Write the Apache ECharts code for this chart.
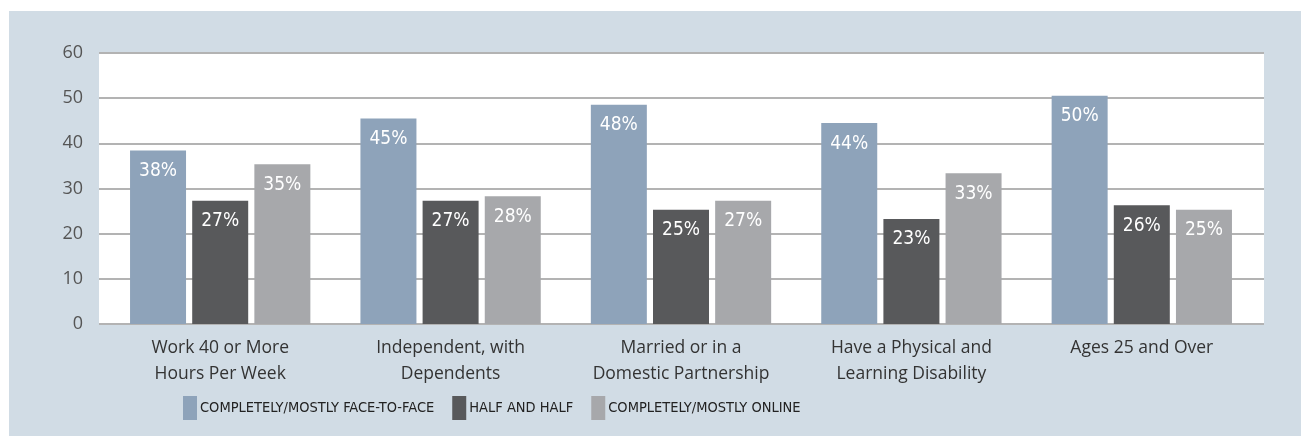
<!DOCTYPE html>
<html>
<head>
<meta charset="utf-8">
<script src="https://cdn.jsdelivr.net/npm/echarts@6/dist/echarts.min.js"></script>
<style>
  html, body { margin: 0; padding: 0; background: #fff; }
  #panel { position: absolute; left: 9px; top: 11px; width: 1292px; height: 425px; background: #d1dce5; }
  #chart { position: absolute; left: 0; top: 0; width: 1301px; height: 436px; }
</style>
</head>
<body>
<div id="panel"></div>
<div id="chart"></div>
<script>
// categories and values (percent)
const categories = [
  "Work 40 or More\nHours Per Week",
  "Independent, with\nDependents",
  "Married or in a\nDomestic Partnership",
  "Have a Physical and\nLearning Disability",
  "Ages 25 and Over"
];
const faceToFace = [38, 45, 48, 44, 50];
const halfAndHalf = [27, 27, 25, 23, 26];
const online = [35, 28, 27, 33, 25];
const seriesNames = ["COMPLETELY/MOSTLY FACE-TO-FACE", "HALF AND HALF", "COMPLETELY/MOSTLY ONLINE"];
const colors = ["#8ea3ba", "#58595b", "#a7a8ab"];

const chart = echarts.init(document.getElementById("chart"));

const narrow = "'Liberation Sans Narrow', 'DejaVu Sans Condensed', sans-serif";

const barLabel = {
  show: true,
  position: "insideTop",
  distance: 11,
  color: "#fff",
  fontSize: 19,
  fontFamily: narrow,
  formatter: (p) => p.value + "%"
};

function bar(name, data, color) {
  return {
    name: name,
    type: "bar",
    xAxisIndex: 1,
    yAxisIndex: 1,
    data: data,
    barWidth: 56,
    barGap: "11%",
    itemStyle: { color: color },
    label: barLabel
  };
}

const option = {
  animation: false,
  grid: [
    // white plot area with split lines
    { left: 99, right: 37, top: 53, bottom: 112, show: true, backgroundColor: "#fff", borderWidth: 0 },
    // bars
    { left: 105, right: 44, top: 50, bottom: 112 }
  ],
  legend: {
    bottom: 11,
    left: 178,
    itemWidth: 14,
    itemHeight: 24,
    itemGap: 18,
    icon: "rect",
    textStyle: {
      fontSize: 14.5,
      color: "#222",
      padding: [0, 0, 0, -2],
      fontFamily: narrow
    },
    data: seriesNames
  },
  xAxis: [
    { type: "category", gridIndex: 0, data: categories, show: false },
    {
      type: "category",
      gridIndex: 1,
      data: categories,
      axisLine: { show: false },
      axisTick: { show: false },
      axisLabel: {
        margin: 11,
        color: "#333",
        fontSize: 17.5,
        lineHeight: 26,
        fontFamily: "'Open Sans', sans-serif"
      }
    }
  ],
  yAxis: [
    {
      type: "value",
      gridIndex: 0,
      min: 0,
      max: 60,
      interval: 10,
      axisLine: { show: false },
      axisTick: { show: false },
      splitLine: { lineStyle: { color: "#b3b3b3", width: 2 } },
      axisLabel: {
        margin: 16,
        color: "#555",
        fontSize: 18,
        fontFamily: "'Open Sans', sans-serif"
      }
    },
    { type: "value", gridIndex: 1, min: 0, max: 60, interval: 10, show: false }
  ],
  series: [
    bar(seriesNames[0], faceToFace, colors[0]),
    bar(seriesNames[1], halfAndHalf, colors[1]),
    bar(seriesNames[2], online, colors[2])
  ]
};

chart.setOption(option);
</script>
</body>
</html>
